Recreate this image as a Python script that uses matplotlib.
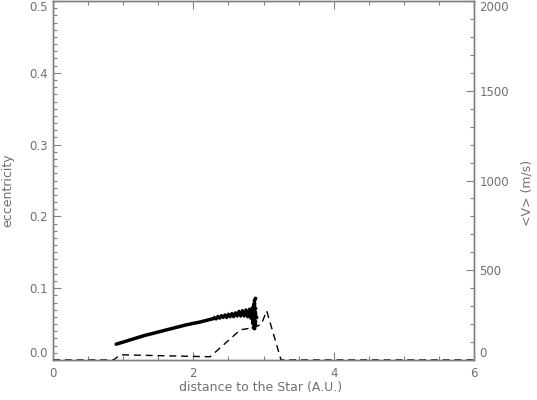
import matplotlib
matplotlib.use("Agg")
import matplotlib.pyplot as plt
from matplotlib.ticker import FixedLocator, MultipleLocator, FuncFormatter

# eccentricity - smooth part
ecc_x = [0.90, 1.00, 1.10, 1.30, 1.50, 1.70, 1.90, 2.10, 2.30]
ecc_y = [0.022, 0.025, 0.028, 0.034, 0.039, 0.044, 0.049, 0.053, 0.058]

# eccentricity - oscillating part
osc_x = [2.300, 2.325, 2.350, 2.375, 2.400, 2.425, 2.450, 2.475, 2.500, 2.525,
         2.550, 2.575, 2.600, 2.625, 2.650, 2.675, 2.700, 2.725, 2.750, 2.775,
         2.800, 2.820, 2.840, 2.850, 2.860, 2.870, 2.880, 2.890]
osc_y = [0.059, 0.057, 0.061, 0.058, 0.062, 0.059, 0.063, 0.059, 0.064, 0.060,
         0.065, 0.060, 0.066, 0.061, 0.068, 0.061, 0.069, 0.061, 0.070, 0.060,
         0.071, 0.058, 0.073, 0.050, 0.078, 0.048, 0.068, 0.062]

# scattered spike points near the end
spike_x = [2.855, 2.86, 2.86, 2.865, 2.87, 2.87, 2.875, 2.875, 2.88, 2.88, 2.885, 2.89]
spike_y = [0.046, 0.052, 0.076, 0.083, 0.045, 0.079, 0.087, 0.055, 0.050, 0.072, 0.066, 0.060]

# mean velocity (right axis)
v_x = [0.0, 0.86, 0.96, 2.24, 2.67, 2.88, 2.97, 3.045, 3.25, 6.0]
v_y = [0, 0, 29, 18, 168, 182, 200, 274, 0, 0]

x_ticks = [0, 2, 4, 6]
ecc_ticks = [0.0, 0.1, 0.2, 0.3, 0.4, 0.5]
v_ticks = [0, 500, 1000, 1500, 2000]

gray = "#808080"
tcol = "#707070"
W, H = 537, 400
fig = plt.figure(figsize=(W / 100, H / 100), dpi=100)
ax = fig.add_axes([53 / W, 1 - 360 / H, (474 - 53) / W, 359 / H])
ax2 = ax.twinx()

ax.plot(ecc_x, ecc_y, color="black", lw=2.5, solid_capstyle="round", zorder=3)
ax.plot(osc_x, osc_y, color="black", lw=2.2, zorder=3)
ax.scatter(spike_x, spike_y, s=3, color="black", zorder=3)
ax2.plot(v_x, v_y, color="black", lw=1.0, dashes=(5, 3.5))

ax.set_xlim(0, 6)
ax.set_ylim(0, 0.5)
ax2.set_ylim(0, 2000)

ax.xaxis.set_major_locator(FixedLocator(x_ticks))
ax.xaxis.set_minor_locator(MultipleLocator(0.5))
ax.yaxis.set_major_locator(FixedLocator(ecc_ticks))
ax.yaxis.set_minor_locator(MultipleLocator(0.01))
ax.yaxis.set_major_formatter(FuncFormatter(lambda v, p: f"{v:.1f}"))
ax2.yaxis.set_major_locator(FixedLocator(v_ticks))
ax2.yaxis.set_minor_locator(MultipleLocator(100))

for a in (ax, ax2):
    for s in a.spines.values():
        s.set_color(gray)
        s.set_linewidth(1.0)

fs = 8.5
ax.tick_params(axis="x", which="both", direction="in", top=True, bottom=True,
               colors=gray, labelcolor=tcol, labelsize=fs, pad=5)
ax.tick_params(axis="y", which="both", direction="in", left=True, right=False,
               colors=gray, labelcolor=tcol, labelsize=fs, pad=4)
ax2.tick_params(axis="y", which="both", direction="in", right=True, left=False,
                colors=gray, labelcolor=tcol, labelsize=fs, pad=4)
for a in (ax, ax2):
    a.tick_params(which="major", length=6, width=0.8)
    a.tick_params(which="minor", length=3, width=0.8)

# end labels nudged inside the axis range (as in the reference)
for a, side in ((ax, "label1"), (ax2, "label2")):
    ticks = a.yaxis.get_major_ticks()
    getattr(ticks[0], side).set_verticalalignment("bottom")
    getattr(ticks[-1], side).set_verticalalignment("top")

fig.text(261 / W, 1 - 387 / H, "distance to the Star (A.U.)", color=tcol,
         fontsize=9, ha="center", va="center")
fig.text(8 / W, 1 - 190 / H, "eccentricity", color=tcol, fontsize=9,
         ha="center", va="center", rotation=90)
fig.text(527 / W, 1 - 193 / H, "<V> (m/s)", color=tcol, fontsize=9,
         ha="center", va="center", rotation=90)

fig.savefig("out.png", dpi=100)
